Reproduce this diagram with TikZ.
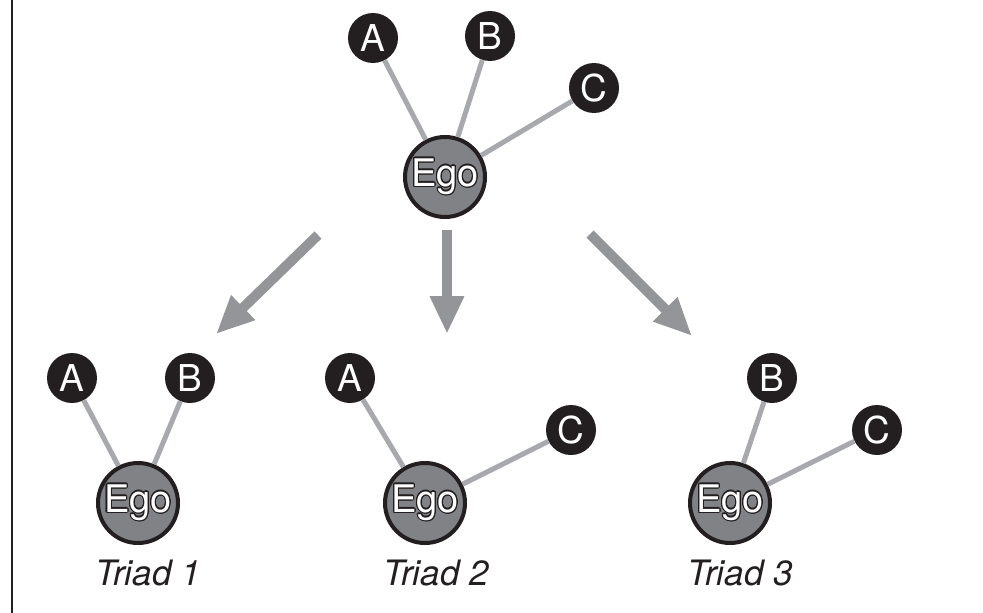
\documentclass[tikz,border=0pt]{standalone}
\usepackage{fontspec}
\setmainfont{TeX Gyre Heros}
\usepackage{contour}
\contourlength{1.2pt}
\contournumber{16}
\usetikzlibrary{arrows.meta}
\definecolor{nodeblack}{HTML}{231F20}
\definecolor{egogray}{HTML}{808285}
\definecolor{tiegray}{HTML}{A7A9AC}
\definecolor{arrowgray}{HTML}{939598}
\tikzset{
  alter/.style={circle, fill=nodeblack, minimum size=50pt, inner sep=0pt,
    text=white, font=\fontsize{37}{37}\selectfont},
  ego/.style={circle, fill=egogray, draw=nodeblack, line width=4pt,
    minimum size=80pt, inner sep=0pt, font=\fontsize{38}{38}\selectfont},
  tie/.style={draw=tiegray, line width=5pt},
  flow/.style={draw=arrowgray, line width=10pt,
    -{Triangle[width=32pt,length=38pt]}},
  triadlabel/.style={font=\itshape\fontsize{35}{35}\selectfont, text=nodeblack},
}
% white lettering with a thin dark outline
\newcommand{\egotext}{\contour{nodeblack}{\color{white}Ego}}
\begin{document}
\begin{tikzpicture}[x=1pt, y=-1pt]
\useasboundingbox (0,0) rectangle (983,613);
\draw[line width=2pt, nodeblack] (12,0) -- (12,613);

% full ego network
\node[ego] (e0) at (445,177) {\egotext};
\node[alter] (a0) at (373,38) {A};
\node[alter] (b0) at (490,36) {B};
\node[alter] (c0) at (594,88) {C};
\draw[tie] (a0) -- (e0);
\draw[tie] (b0) -- (e0);
\draw[tie] (c0) -- (e0);

% decomposition arrows
\coordinate (s1) at (318,235); \coordinate (t1) at (216,334);
\coordinate (s2) at (447,230); \coordinate (t2) at (447,334);
\coordinate (s3) at (590,234); \coordinate (t3) at (692,336);
\draw[flow] (s1) -- (t1);
\draw[flow] (s2) -- (t2);
\draw[flow] (s3) -- (t3);

% triad 1
\node[ego] (e1) at (138,503) {\egotext};
\node[alter] (a1) at (72,378) {A};
\node[alter] (b1) at (190,378) {B};
\draw[tie] (a1) -- (e1);
\draw[tie] (b1) -- (e1);
\node[triadlabel] (l1) at (148,573) {Triad 1};

% triad 2
\node[ego] (e2) at (425,503) {\egotext};
\node[alter] (a2) at (350,378) {A};
\node[alter] (c2) at (571,430) {C};
\draw[tie] (a2) -- (e2);
\draw[tie] (c2) -- (e2);
\node[triadlabel] (l2) at (436,573) {Triad 2};

% triad 3
\node[ego] (e3) at (730,503) {\egotext};
\node[alter] (b3) at (772,378) {B};
\node[alter] (c3) at (877,430) {C};
\draw[tie] (b3) -- (e3);
\draw[tie] (c3) -- (e3);
\node[triadlabel] (l3) at (740,573) {Triad 3};
\end{tikzpicture}
\end{document}
